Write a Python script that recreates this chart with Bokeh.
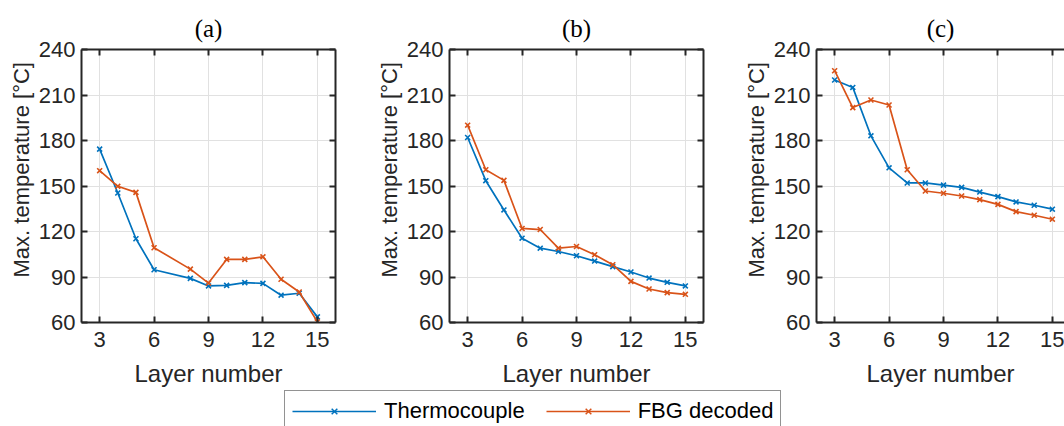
from bokeh.plotting import figure
from bokeh.models import LinearAxis, FixedTicker, Legend, LegendItem, Title, Range1d
from bokeh.layouts import column, row
from bokeh.embed import file_html
from bokeh.resources import INLINE

# ---- data ----
layers_a = [3, 4, 5, 6, 8, 9, 10, 11, 12, 13, 14, 15]
tc_a = [174.3, 145.4, 115.2, 94.8, 89.1, 84.1, 84.5, 86.3, 85.8, 78.0, 79.3, 63.7]
fbg_a = [160.1, 149.8, 145.8, 109.3, 95.2, 86.0, 101.6, 101.6, 103.3, 88.5, 80.1, 60.4]

layers_b = [3, 4, 5, 6, 7, 8, 9, 10, 11, 12, 13, 14, 15]
tc_b = [182.0, 153.5, 134.2, 115.6, 109.0, 106.8, 104.0, 100.5, 96.8, 93.3, 89.3, 86.5, 84.1]
fbg_b = [190.1, 160.7, 153.7, 122.0, 121.3, 109.0, 110.1, 104.7, 98.1, 87.1, 82.1, 79.7, 78.6]

layers_c = [3, 4, 5, 6, 7, 8, 9, 10, 11, 12, 13, 14, 15]
tc_c = [219.9, 215.0, 183.1, 162.0, 152.0, 152.0, 150.6, 149.1, 146.0, 143.0, 139.5, 137.3, 134.7]
fbg_c = [226.0, 201.7, 206.7, 203.4, 160.7, 146.7, 145.2, 143.4, 141.0, 137.9, 133.1, 130.7, 128.1]

panel_titles = ["(a)", "(b)", "(c)"]
x_ticks = [3, 6, 9, 12, 15]
y_ticks = [60, 90, 120, 150, 180, 210, 240]
series_names = ["Thermocouple", "FBG decoded"]

BLUE = "#0072BD"
ORANGE = "#D95319"
AX = "#262626"
FONT = "Liberation Sans"

TOP, FRAME_H, BOTTOM = 49, 274, 66


def style_axis(ax, ticks, show_labels, standoff=6):
    ax.ticker = FixedTicker(ticks=ticks)
    ax.axis_line_color = AX
    ax.axis_line_width = 2
    ax.major_tick_in = 6
    ax.major_tick_out = 0
    ax.major_tick_line_color = AX
    ax.major_tick_line_width = 2
    ax.minor_tick_line_color = None
    ax.major_label_text_font = FONT
    ax.major_label_text_font_size = "22px"
    ax.major_label_text_color = AX
    ax.major_label_standoff = standoff
    if not show_labels:
        ax.major_label_overrides = {t: "" for t in ticks}


def make_panel(title, xs, tc, fbg, left_border, right_border, frame_w, x_end, right_axis):
    p = figure(width=left_border + frame_w + right_border, height=TOP + FRAME_H + BOTTOM,
               x_range=Range1d(2, x_end), y_range=Range1d(60, 240),
               output_backend="svg", toolbar_location=None,
               min_border_left=left_border, min_border_right=right_border,
               min_border_top=TOP, min_border_bottom=BOTTOM)
    p.outline_line_color = None
    p.background_fill_color = "white"
    p.border_fill_color = "white"

    style_axis(p.xaxis[0], x_ticks, True, standoff=9)
    style_axis(p.yaxis[0], y_ticks, True, standoff=6)
    p.xaxis.axis_label = "Layer number"
    p.xaxis.axis_label_text_font = FONT
    p.xaxis.axis_label_text_font_size = "24px"
    p.xaxis.axis_label_text_font_style = "normal"
    p.xaxis.axis_label_text_color = AX
    p.xaxis.axis_label_standoff = 10

    top = LinearAxis()
    style_axis(top, x_ticks, False)
    p.add_layout(top, "above")
    if right_axis:
        rt = LinearAxis()
        style_axis(rt, y_ticks, False)
        p.add_layout(rt, "right")

    p.xgrid.ticker = FixedTicker(ticks=x_ticks)
    p.ygrid.ticker = FixedTicker(ticks=y_ticks)
    p.grid.grid_line_color = "#e1e1e1"
    p.grid.grid_line_width = 1

    ylab = Title(text="Max. temperature [°C]", align="left", offset=45,
                 text_font=FONT, text_font_size="22px", text_font_style="normal",
                 text_color=AX, standoff=3)
    p.add_layout(ylab, "left")

    p.title.text = title
    p.title.align = "center"
    p.title.text_font = "Liberation Serif"
    p.title.text_font_size = "25px"
    p.title.text_font_style = "normal"
    p.title.text_color = "black"
    p.title.standoff = 16

    p.line(xs, tc, color=BLUE, line_width=1.7)
    p.scatter(xs, tc, marker="x", color=BLUE, size=7, line_width=1.6)
    p.line(xs, fbg, color=ORANGE, line_width=1.7)
    p.scatter(xs, fbg, marker="x", color=ORANGE, size=7, line_width=1.6)
    return p


fa = make_panel(panel_titles[0], layers_a, tc_a, fbg_a, 81, 10, 254, 16, True)
fb = make_panel(panel_titles[1], layers_b, tc_b, fbg_b, 104, 10, 254, 16, True)
fc = make_panel(panel_titles[2], layers_c, tc_c, fbg_c, 103, 0, 248, 2 + 248 / (254 / 14), False)

LEG_H = 426 - (TOP + FRAME_H + BOTTOM)
lf = figure(width=1064, height=LEG_H, x_range=Range1d(0, 1), y_range=Range1d(0, 1),
            output_backend="svg", toolbar_location=None, min_border=0,
            min_border_left=283, x_axis_location=None, y_axis_location=None)
lf.outline_line_color = None
lf.grid.visible = False
# off-screen dummy renderers that only feed the legend glyphs
r1l = lf.line([-5, -4], [-5, -5], color=BLUE, line_width=1.7)
r1s = lf.scatter([-5], [-5], marker="x", color=BLUE, size=6, line_width=1.5)
r2l = lf.line([-5, -4], [-5, -5], color=ORANGE, line_width=1.7)
r2s = lf.scatter([-5], [-5], marker="x", color=ORANGE, size=6, line_width=1.5)
legend = Legend(items=[LegendItem(label=series_names[0], renderers=[r1l, r1s]),
                       LegendItem(label=series_names[1], renderers=[r2l, r2s])],
                orientation="horizontal", location="top_left", margin=1,
                padding=7, spacing=21, glyph_width=84, glyph_height=20,
                label_height=20, label_standoff=8, label_text_font=FONT,
                label_text_font_size="22px",
                label_text_color="black", border_line_color=AX, border_line_width=1,
                background_fill_color="white", background_fill_alpha=1)
lf.add_layout(legend)

layout = column(row(fa, fb, fc), lf)
open("out.html", "w").write(file_html(layout, INLINE))
